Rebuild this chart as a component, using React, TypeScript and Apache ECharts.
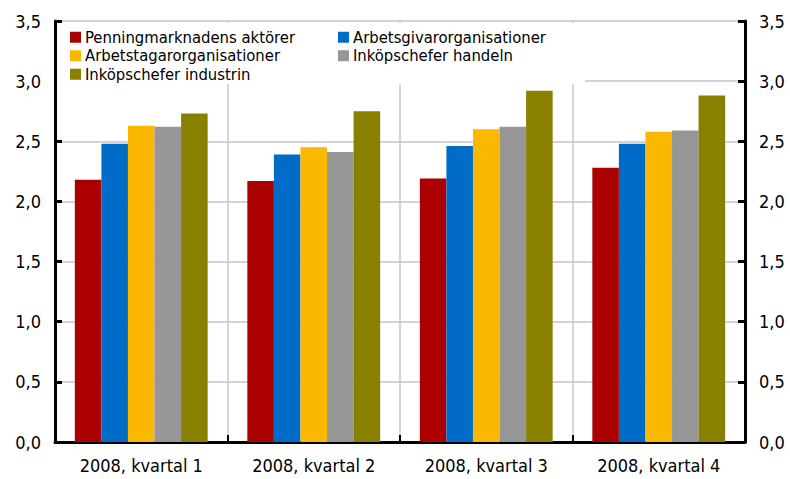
import React, { useEffect, useRef } from "react";
import * as echarts from "echarts";

const categories = ["2008, kvartal 1", "2008, kvartal 2", "2008, kvartal 3", "2008, kvartal 4"];
const seriesNames = [
  "Penningmarknadens aktörer",
  "Arbetsgivarorganisationer",
  "Arbetstagarorganisationer",
  "Inköpschefer handeln",
  "Inköpschefer industrin",
];
const penning = [2.18, 2.17, 2.19, 2.28];
const arbetsgivar = [2.48, 2.39, 2.46, 2.48];
const arbetstagar = [2.63, 2.45, 2.6, 2.58];
const handeln = [2.62, 2.41, 2.62, 2.59];
const industrin = [2.73, 2.75, 2.92, 2.88];
const seriesValues = [penning, arbetsgivar, arbetstagar, handeln, industrin];
const colors = ["#AA0000", "#006CC8", "#FBB800", "#969696", "#8A8000"];

const FONT = "'DejaVu Sans Condensed', 'Liberation Sans Narrow', 'DejaVu Sans', sans-serif";
const fmt = (v: number) => v.toFixed(1).replace(".", ",");

export default function App() {
  const ref = useRef<HTMLDivElement>(null);
  useEffect(() => {
    if (!ref.current) return;
    const chart = echarts.init(ref.current, undefined, { renderer: "svg" });
    const yAxisBase = {
      type: "value" as const,
      min: 0,
      max: 3.5,
      interval: 0.5,
      axisLine: { show: true, lineStyle: { color: "#000", width: 3 } },
      axisTick: { show: true, inside: true, length: 7, lineStyle: { color: "#000", width: 3 } },
      axisLabel: { formatter: fmt, color: "#000", fontSize: 18, fontFamily: FONT, margin: 14 },
    };
    const legendBase = {
      orient: "vertical" as const,
      top: 28,
      padding: 0,
      itemGap: 0,
      itemWidth: 11,
      itemHeight: 11,
      icon: "rect",
      textStyle: { fontSize: 16.5, fontFamily: FONT, color: "#000", lineHeight: 18.5, padding: [0, 0, 0, -1] },
    };
    chart.setOption({
      animation: false,
      color: colors,
      grid: { left: 55, right: 45, top: 21, bottom: 37, containLabel: false },
      legend: [
        { ...legendBase, data: [seriesNames[0], seriesNames[2], seriesNames[4]], left: 70 },
        { ...legendBase, data: [seriesNames[1], seriesNames[3]], left: 338 },
      ],
      graphic: [
        {
          type: "rect",
          left: 57,
          top: 23,
          z: 1,
          shape: { width: 528, height: 61 },
          style: { fill: "#fff" },
        },
      ],
      xAxis: {
        type: "category",
        data: categories,
        axisLine: { show: true, lineStyle: { color: "#000", width: 3 } },
        axisTick: { show: true, inside: true, length: 7, lineStyle: { color: "#000", width: 2 } },
        axisLabel: { color: "#000", fontSize: 18, fontFamily: FONT, margin: 14 },
        splitLine: { show: true, lineStyle: { color: "#c8c8c8", width: 1.5 } },
      },
      yAxis: [
        {
          ...yAxisBase,
          position: "left",
          splitLine: { show: true, lineStyle: { color: "#c4c4c4", width: 1.5 } },
        },
        {
          ...yAxisBase,
          position: "right",
          splitLine: { show: false },
        },
      ],
      series: seriesNames.map((name, i) => ({
        name,
        type: "bar",
        data: seriesValues[i],
        barGap: "0%",
        barCategoryGap: "23%",
        itemStyle: { color: colors[i] },
      })),
    });
    return () => chart.dispose();
  }, []);
  return <div ref={ref} style={{ width: 790, height: 479, position: "absolute", left: 0, top: 0 }} />;
}
